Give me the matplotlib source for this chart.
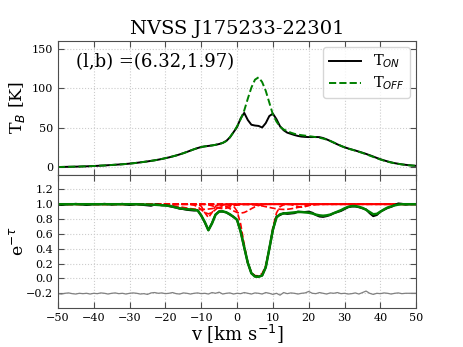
import matplotlib
matplotlib.use("Agg")
import matplotlib.pyplot as plt
import numpy as np

plt.rcParams['font.family'] = 'DejaVu Serif'
plt.rcParams['mathtext.fontset'] = 'dejavusans'

# velocity grid (km/s)
vel = np.arange(-50, 51, 1)

# emission spectra [K]
t_off = [0.5, 0.6, 0.7, 0.8, 0.9, 1.0, 1.1, 1.3, 1.4, 1.6,
         1.8, 2.0, 2.3, 2.5, 2.8, 3.1, 3.4, 3.7, 4.0, 4.4,
         4.8, 5.3, 5.8, 6.4, 7.0, 7.6, 8.3, 9.0, 9.8, 10.7,
         11.7, 12.7, 13.9, 15.1, 16.5, 18.0, 19.6, 21.3, 23.0, 24.5,
         25.8, 26.6, 27.2, 27.8, 28.6, 29.6, 31.0, 33.5, 38.0, 44.5,
         52.0, 61.0, 72.0, 87.0, 101.0, 111.0, 114.0, 108.0, 97.0, 82.0,
         67.0, 58.0, 51.5, 48.0, 46.0, 44.0, 42.5, 41.5, 40.8, 40.2,
         39.6, 39.0, 38.3, 37.5, 36.5, 35.2, 33.5, 31.5, 29.5, 27.3,
         25.3, 23.8, 22.5, 21.2, 19.8, 18.3, 16.7, 15.0, 13.3, 11.6,
         10.0, 8.6, 7.3, 6.2, 5.3, 4.5, 3.8, 3.2, 2.7, 2.3, 2.0]
t_on = [0.5, 0.6, 0.7, 0.8, 0.9, 1.0, 1.1, 1.3, 1.4, 1.6,
        1.8, 2.0, 2.3, 2.5, 2.8, 3.1, 3.4, 3.7, 4.0, 4.4,
        4.8, 5.3, 5.8, 6.4, 7.0, 7.6, 8.3, 9.0, 9.8, 10.7,
        11.7, 12.7, 13.9, 15.1, 16.5, 18.0, 19.6, 21.3, 23.0, 24.5,
        25.8, 26.6, 27.2, 27.8, 28.6, 29.6, 31.0, 33.5, 38.0, 44.5,
        51.0, 62.0, 69.0, 60.0, 54.0, 53.0, 52.5, 50.5, 56.0, 65.0,
        68.0, 61.0, 52.0, 47.0, 44.0, 42.5, 41.0, 39.8, 39.0, 38.6,
        38.4, 38.4, 38.5, 38.3, 37.2, 35.5, 33.5, 31.3, 29.2, 27.2,
        25.5, 24.0, 22.7, 21.4, 20.0, 18.6, 17.1, 15.5, 13.8, 12.0,
        10.4, 8.9, 7.6, 6.4, 5.4, 4.6, 3.9, 3.3, 2.8, 2.4, 2.0]

# absorption spectrum, fit and residual
emt_data = [0.995, 0.99, 0.995, 1.0, 1.0, 1.005, 1.0, 0.995, 0.99, 0.995,
            1.0, 1.0, 1.0, 1.005, 1.0, 0.995, 1.0, 1.0, 1.005, 0.995,
            0.99, 0.995, 1.0, 0.995, 0.99, 0.985, 0.98, 0.995, 0.995, 0.985,
            0.985, 0.975, 0.965, 0.955, 0.94, 0.935, 0.925, 0.92, 0.915, 0.92,
            0.845, 0.755, 0.65, 0.745, 0.86, 0.905, 0.9, 0.89, 0.86, 0.83,
            0.79, 0.635, 0.415, 0.21, 0.07, 0.03, 0.025, 0.04, 0.15, 0.4,
            0.65, 0.835, 0.855, 0.88, 0.87, 0.875, 0.88, 0.9, 0.895, 0.895,
            0.9, 0.885, 0.855, 0.835, 0.83, 0.84, 0.855, 0.88, 0.895, 0.91,
            0.935, 0.96, 0.97, 0.97, 0.96, 0.945, 0.93, 0.88, 0.84, 0.855,
            0.9, 0.925, 0.95, 0.965, 0.99, 1.01, 1.005, 0.995, 1.0, 1.0, 1.0]
emt_fit = [1.0, 1.0, 1.0, 1.0, 1.0, 1.0, 1.0, 1.0, 1.0, 1.0,
           1.0, 1.0, 1.0, 1.0, 1.0, 1.0, 1.0, 1.0, 1.0, 1.0,
           1.0, 1.0, 1.0, 0.998, 0.997, 0.996, 0.995, 0.993, 0.99, 0.987,
           0.983, 0.978, 0.968, 0.955, 0.945, 0.938, 0.933, 0.93, 0.925, 0.915,
           0.85, 0.76, 0.65, 0.74, 0.86, 0.9, 0.905, 0.89, 0.865, 0.83,
           0.79, 0.63, 0.42, 0.21, 0.07, 0.025, 0.022, 0.04, 0.15, 0.4,
           0.66, 0.82, 0.865, 0.875, 0.88, 0.885, 0.89, 0.895, 0.895, 0.89,
           0.885, 0.875, 0.86, 0.85, 0.845, 0.85, 0.86, 0.88, 0.9, 0.92,
           0.945, 0.965, 0.975, 0.975, 0.965, 0.95, 0.925, 0.895, 0.865, 0.87,
           0.9, 0.93, 0.955, 0.97, 0.985, 0.995, 1.0, 1.0, 1.0, 1.0, 1.0]
resid = [-0.205, -0.21, -0.2, -0.195, -0.205, -0.21, -0.2, -0.205, -0.2, -0.21,
         -0.2, -0.205, -0.195, -0.2, -0.21, -0.2, -0.195, -0.205, -0.2, -0.21,
         -0.2, -0.195, -0.2, -0.21, -0.205, -0.215, -0.195, -0.19, -0.2, -0.195,
         -0.205, -0.2, -0.19, -0.205, -0.21, -0.195, -0.2, -0.21, -0.2, -0.195,
         -0.205, -0.2, -0.21, -0.19, -0.2, -0.185, -0.21, -0.2, -0.195, -0.21,
         -0.2, -0.205, -0.19, -0.2, -0.21, -0.195, -0.2, -0.21, -0.19, -0.2,
         -0.215, -0.2, -0.225, -0.19, -0.205, -0.195, -0.2, -0.21, -0.2, -0.195,
         -0.175, -0.2, -0.205, -0.19, -0.2, -0.21, -0.195, -0.2, -0.19, -0.205,
         -0.2, -0.21, -0.205, -0.195, -0.21, -0.19, -0.17, -0.2, -0.215, -0.2,
         -0.205, -0.195, -0.2, -0.21, -0.2, -0.195, -0.205, -0.2, -0.2, -0.2, -0.2]

# gaussian components: first velocity, then e^-tau values at 1 km/s steps
comp_start = [-24, -11, -13, -9, -6, -2, 3, 15]
comp_vals = [
    [0.999, 0.998, 0.996, 0.994, 0.990, 0.986, 0.980, 0.973, 0.965, 0.957,
     0.949, 0.941, 0.935, 0.931, 0.930, 0.931, 0.935, 0.941, 0.949, 0.957,
     0.965, 0.973, 0.980, 0.986, 0.990, 0.994, 0.996, 0.998, 0.999],
    [0.998, 0.974, 0.887, 0.82, 0.887, 0.974, 0.998],
    [0.997, 0.988, 0.966, 0.928, 0.888, 0.87, 0.888, 0.928, 0.966, 0.988, 0.997],
    [0.997, 0.992, 0.980, 0.963, 0.947, 0.94, 0.947, 0.963, 0.980, 0.992, 0.997],
    [0.997, 0.993, 0.983, 0.965, 0.940, 0.911, 0.889, 0.88, 0.889, 0.911,
     0.940, 0.965, 0.983, 0.993, 0.997],
    [0.995, 0.976, 0.907, 0.734, 0.457, 0.206, 0.079, 0.038, 0.035, 0.066,
     0.171, 0.40, 0.685, 0.883, 0.968, 0.993, 0.999],
    [0.997, 0.994, 0.990, 0.984, 0.977, 0.967, 0.957, 0.947, 0.938, 0.932,
     0.93, 0.932, 0.938, 0.947, 0.957, 0.967, 0.977, 0.984, 0.990, 0.994, 0.997],
    [0.995, 0.983, 0.968, 0.96, 0.968, 0.983, 0.995],
]

fig, (ax1, ax2) = plt.subplots(2, 1, figsize=(4.63, 3.47), dpi=100, sharex=True)
fig.subplots_adjust(left=0.125, right=0.899, top=0.882, bottom=0.112, hspace=0)

ax1.plot(vel, t_on, color='black', lw=1.4, label='T$_{ON}$')
ax1.plot(vel, t_off, color='green', lw=1.4, ls='--', label='T$_{OFF}$')
ax1.set_ylim(-9, 160)
ax1.set_yticks([0, 50, 100, 150])
ax1.set_ylabel('T$_B$ [K]', fontsize=12.5, labelpad=-1)
ax1.text(0.05, 0.84, '(l,b) =(6.32,1.97)', transform=ax1.transAxes, fontsize=13, va='center')
ax1.legend(loc='upper right', fontsize=10.5, handlelength=2.2, borderaxespad=0.4,
           labelspacing=0.3, borderpad=0.4)
ax1.set_title('NVSS J175233-22301', fontsize=14, pad=5)

for start, vals in zip(comp_start, comp_vals):
    comp = np.ones(len(vel))
    i0 = start - vel[0]
    comp[i0:i0 + len(vals)] = vals
    ax2.plot(vel, comp, color='red', ls='--', lw=1.2)
ax2.plot(vel, emt_data, color='black', lw=1.5)
ax2.plot(vel, emt_fit, color='green', lw=1.8)
ax2.plot(vel, resid, color='gray', lw=0.9)
ax2.set_ylim(-0.4, 1.4)
ax2.set_yticks([-0.2, 0.0, 0.2, 0.4, 0.6, 0.8, 1.0, 1.2])
ax2.set_xlim(-50, 50)
ax2.set_xticks(np.arange(-50, 51, 10))
ax2.set_ylabel(r'e$^{-\tau}$', fontsize=12.5, labelpad=-1)
ax2.set_xlabel('v [km s$^{-1}$]', fontsize=13, labelpad=0)

for ax in (ax1, ax2):
    ax.grid(True, ls=':', color='0.8', lw=0.8)
    ax.tick_params(direction='in', top=True, right=True, labelsize=8, length=4, color='0.3')
    for sp in ax.spines.values():
        sp.set_color('0.3')
fig.align_ylabels([ax1, ax2])

fig.savefig('out.png')
